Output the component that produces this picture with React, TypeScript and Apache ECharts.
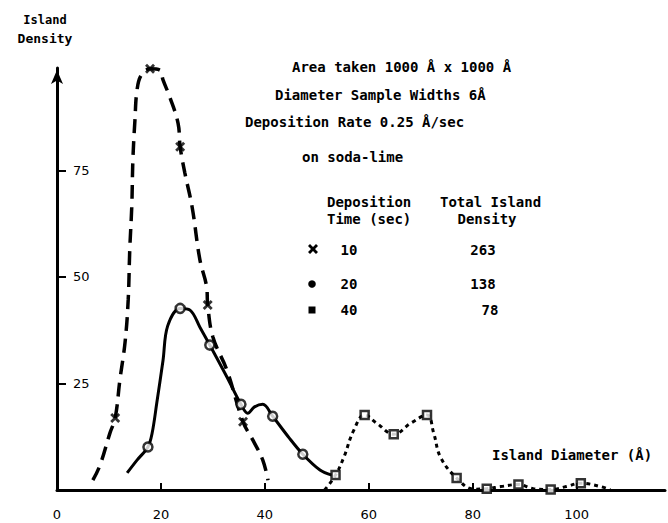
import React, { useEffect, useRef } from "react";
import * as echarts from "echarts";

// ---- data ----
// 10 sec deposition (dashed curve)
const curve10: number[][] = [
  [6.9, 2.3], [8.3, 5.9], [10.2, 13.4], [11.2, 16.9], [12.1, 25.8], [13.1, 34.7],
  [13.7, 44.6], [14.0, 56.3], [14.4, 66.9], [14.6, 77.4], [15.0, 86.8], [15.4, 93.8],
  [16.2, 97.3], [17.9, 98.8], [19.8, 98.5], [20.4, 96.2], [21.7, 92.2], [23.3, 86],
  [23.7, 80.5], [24.6, 74.4], [26.0, 66.4], [27.5, 54], [28.8, 47.6], [29.0, 43.4],
  [30.0, 35.9], [32.7, 28.1], [35.8, 16], [37.7, 11.7], [39.6, 7], [40.6, 2.3],
];
const marks10: number[][] = [[11.2, 16.9], [17.9, 98.8], [23.7, 80.5], [29.0, 43.4], [35.8, 16]];

// 20 sec deposition (solid curve)
const curve20: number[][] = [
  [13.5, 4], [15.4, 7], [17.5, 10.1], [18.3, 13.3], [19.2, 20.4], [20.4, 30.4],
  [21.3, 38.5], [23.7, 42.6], [25.6, 42.2], [27.5, 38.2], [29.4, 34],
  [32.7, 26.5], [35.4, 20.1], [36.7, 18], [38, 19.5], [39.6, 20.1], [41.5, 17.3],
  [44.5, 12.5], [47.3, 8.4], [50.6, 4.7], [52.9, 3.5],
];
const marks20: number[][] = [[17.5, 10.1], [23.7, 42.6], [29.4, 34], [35.4, 20.1], [41.5, 17.3], [47.3, 8.4]];

// 40 sec deposition (dotted curve)
const curve40: number[][] = [
  [51.5, 0], [53.6, 3.5], [55.2, 7.7], [57.1, 14], [59.2, 17.6], [61.5, 15.7],
  [64.8, 13.1], [68.1, 15.7], [71.2, 17.6], [72.5, 13.3], [73.8, 7.7], [76.9, 2.8],
  [80.2, 0.2], [82.7, 0.3], [85.4, 0.8], [88.8, 1.3], [91.7, 0.3], [95, 0.1],
  [98, 0.8], [100.8, 1.6], [104.6, 0.8], [106.5, 0],
];
const marks40: number[][] = [
  [53.6, 3.5], [59.2, 17.6], [64.8, 13.1], [71.2, 17.6], [76.9, 2.8],
  [82.7, 0.3], [88.8, 1.3], [95, 0.1], [100.8, 1.6],
];

const xTickLabels = [0, 20, 40, 60, 80, 100];
const xTicks = [20, 40, 60, 80, 100];
const yTickLabels = [25, 50, 75];

const depositionTimes = ["10", "20", "40"];
const totalDensities = ["263", "138", "78"];

const MONO = "bold 14px 'DejaVu Sans Mono'";
const crossPath =
  "path://M0,2 L2,0 L5,3 L8,0 L10,2 L7,5 L10,8 L8,10 L5,7 L2,10 L0,8 L3,5 Z";

function txt(text: string, x: number, y: number, align = "left", font = MONO) {
  return {
    type: "text",
    x,
    y,
    style: { text, font, fill: "#000", textAlign: align, textVerticalAlign: "middle" },
  };
}

export default function App() {
  const ref = useRef<HTMLDivElement>(null);

  useEffect(() => {
    if (!ref.current) return;
    const chart = echarts.init(ref.current, null, { renderer: "svg" });

    const rowY = [250, 284, 310];
    const legendGraphics: any[] = [];
    legendGraphics.push({
      type: "polygon",
      shape: {
        points: [
          [308, 246], [310, 244], [313, 247], [316, 244], [318, 246], [315, 249],
          [318, 252], [316, 254], [313, 251], [310, 254], [308, 252], [311, 249],
        ],
      },
      style: { fill: "#000" },
    });
    legendGraphics.push({ type: "circle", shape: { cx: 312, cy: rowY[1], r: 3.8 }, style: { fill: "#000" } });
    legendGraphics.push({ type: "rect", shape: { x: 308.5, y: rowY[2] - 3.5, width: 7, height: 7 }, style: { fill: "#000" } });
    depositionTimes.forEach((t, i) => {
      legendGraphics.push(txt(t, 349, rowY[i], "center"));
      legendGraphics.push(txt(totalDensities[i], i === 2 ? 490 : 483, rowY[i], "center"));
    });

    chart.setOption({
      animation: false,
      backgroundColor: "#fff",
      grid: { left: 57, right: 3, top: 68, bottom: 33 },
      xAxis: {
        type: "value",
        min: 0,
        max: 117,
        interval: 20,
        axisLine: { lineStyle: { color: "#000", width: 3 } },
        axisTick: {
          show: true,
          inside: true,
          length: 7,
          customValues: xTicks,
          lineStyle: { color: "#000", width: 2 },
        },
        axisLabel: {
          customValues: xTickLabels,
          margin: 18,
          color: "#000",
          fontFamily: "DejaVu Sans",
          fontSize: 13,
          formatter: (v: number) => (xTickLabels.includes(v) ? String(v) : ""),
        },
        splitLine: { show: false },
      },
      yAxis: {
        type: "value",
        min: 0,
        max: 99,
        interval: 25,
        axisLine: {
          show: true,
          symbol: ["none", "arrow"],
          symbolSize: [9, 14],
          symbolOffset: [0, -2],
          lineStyle: { color: "#000", width: 3 },
        },
        axisTick: {
          show: true,
          inside: true,
          length: 9,
          customValues: yTickLabels,
          lineStyle: { color: "#000", width: 2 },
        },
        axisLabel: {
          inside: true,
          customValues: yTickLabels,
          margin: 16,
          color: "#000",
          fontFamily: "DejaVu Sans",
          fontSize: 13,
          formatter: (v: number) => (yTickLabels.includes(v) ? String(v) : ""),
        },
        splitLine: { show: false },
      },
      series: [
        {
          name: "10 sec",
          type: "line",
          data: curve10,
          smooth: 0.4,
          showSymbol: false,
          lineStyle: { color: "#000", width: 3.5, type: [14, 8] },
          z: 2,
        },
        {
          type: "scatter",
          data: marks10,
          symbol: crossPath,
          symbolSize: 10,
          itemStyle: { color: "#000" },
          z: 3,
        },
        {
          name: "20 sec",
          type: "line",
          data: curve20,
          smooth: 0.35,
          showSymbol: false,
          lineStyle: { color: "#000", width: 3 },
          z: 2,
        },
        {
          type: "scatter",
          data: marks20,
          symbol: "circle",
          symbolSize: 9,
          itemStyle: { color: "#fff", borderColor: "#000", borderWidth: 2.5 },
          z: 3,
        },
        {
          name: "40 sec",
          type: "line",
          data: curve40,
          smooth: 0.4,
          showSymbol: false,
          lineStyle: { color: "#000", width: 3, type: [4, 4] },
          z: 2,
        },
        {
          type: "scatter",
          data: marks40,
          symbol: "rect",
          symbolSize: 8,
          itemStyle: { color: "#fff", borderColor: "#000", borderWidth: 2.5 },
          z: 3,
        },
      ],
      graphic: [
        txt("Island", 45, 20, "center", "bold 12px 'DejaVu Sans Mono'"),
        txt("Density", 45, 38, "center", "bold 13px 'DejaVu Sans Mono'"),
        txt("Area taken 1000 Å x 1000 Å", 292, 67),
        txt("Diameter Sample Widths 6Å", 275, 95),
        txt("Deposition Rate 0.25 Å/sec", 245, 122),
        txt("on soda-lime", 302, 157),
        txt("Deposition", 327, 202),
        txt("Time (sec)", 327, 219),
        txt("Total Island", 440, 202),
        txt("Density", 487, 219, "center"),
        txt("Island Diameter (Å)", 492, 455),
        ...legendGraphics,
      ],
    });

    return () => chart.dispose();
  }, []);

  return (
    <div
      ref={ref}
      style={{ position: "fixed", left: 0, top: 0, width: 668, height: 523, background: "#fff" }}
    />
  );
}
